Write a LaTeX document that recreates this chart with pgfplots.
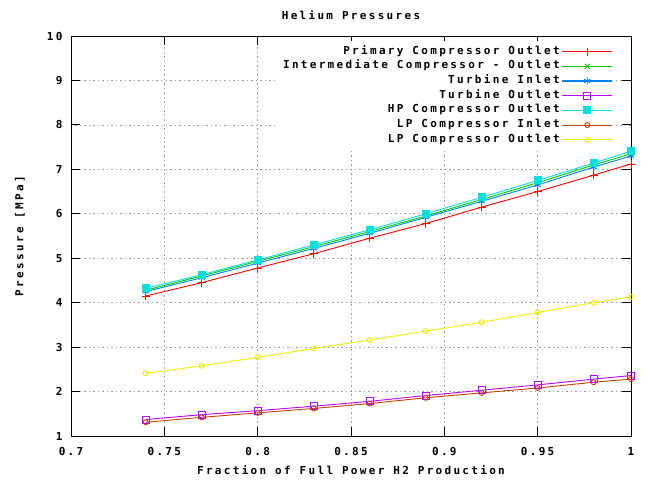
\documentclass[border=0pt]{standalone}
\usepackage{fontspec}
\setmainfont{DejaVu Sans Mono}[LetterSpace=21]
\usepackage{pgfplots}
\pgfplotsset{compat=1.18}
\definecolor{gpred}{RGB}{255,0,0}
\definecolor{gpgreen}{RGB}{0,200,0}
\definecolor{gpblue}{RGB}{0,128,255}
\definecolor{gpmag}{RGB}{192,0,255}
\definecolor{gpcyan}{RGB}{0,224,224}
\definecolor{gpbrown}{RGB}{192,64,0}
\definecolor{gpyellow}{RGB}{238,238,0}
\pgfplotsset{leg/.style={color=#1, legend image code/.code={\draw[draw=#1, line width=1.1pt] (0pt,0pt) -- (50pt,0pt); \draw[draw=#1, color=#1, line width=0.9pt] plot[only marks] coordinates {(25pt,0pt)};}}}
\begin{document}
\begin{tikzpicture}
\begin{axis}[
  scale only axis, width=560pt, height=400pt,
  at={(0,0)}, anchor=south west,
  xmin=0.7, xmax=1, ymin=1, ymax=10,
  xtick={0.7,0.75,0.8,0.85,0.9,0.95,1},
  ytick={1,2,3,4,5,6,7,8,9,10},
  xticklabels={0.7,0.75,0.8,0.85,0.9,0.95,1},
  /pgf/number format/assume math mode=true,
  tick align=inside, major tick length=9pt,
  tick style={black, line width=0.8pt},
  font=\fontsize{11}{13}\selectfont\bfseries,
  xticklabel style={yshift=-8pt},
  yticklabel style={xshift=-5pt},
  grid=major,
  major grid style={gray!80, dash pattern=on 1.5pt off 3pt, line width=0.6pt},
  axis line style={black, line width=0.8pt},
  title={Helium Pressures},
  title style={at={(axis description cs:0.5,1.0375)}, anchor=center},
  xlabel={Fraction of Full Power H2 Production},
  xlabel style={at={(axis description cs:0.5,-0.085)}, anchor=center},
  ylabel={Pressure [MPa]},
  ylabel style={at={(axis description cs:-0.091,0.5)}, anchor=center, rotate=0},
  legend plot pos=right,
  legend cell align=right,
  legend style={draw=none, fill=white, at={(rel axis cs:1,1)}, anchor=north east,
    xshift=-15pt, yshift=-5pt, inner sep=3pt, row sep=0pt,
    nodes={inner ysep=1.35pt, text height=8.5pt, text depth=3.5pt},
    /tikz/every even column/.append style={column sep=3pt},
    font=\fontsize{11}{13}\selectfont\bfseries},
  every axis plot/.append style={line width=0.9pt},
]
\addplot[leg=gpred, mark=+, mark size=4pt] coordinates {
(0.74,4.15) (0.77,4.45) (0.80,4.78) (0.83,5.10) (0.86,5.45) (0.89,5.78) (0.92,6.15) (0.95,6.50) (0.98,6.87) (1.00,7.12)};
\addlegendentry{Primary Compressor Outlet}
\addplot[leg=gpgreen, mark=x, mark size=3.5pt] coordinates {
(0.74,4.28) (0.77,4.60) (0.80,4.93) (0.83,5.26) (0.86,5.60) (0.89,5.95) (0.92,6.32) (0.95,6.70) (0.98,7.10) (1.00,7.35)};
\addlegendentry{Intermediate Compressor - Outlet}
\addplot[leg=gpblue, mark=asterisk, mark size=3.5pt] coordinates {
(0.74,4.25) (0.77,4.56) (0.80,4.89) (0.83,5.22) (0.86,5.56) (0.89,5.92) (0.92,6.28) (0.95,6.65) (0.98,7.05) (1.00,7.30)};
\addlegendentry{Turbine Inlet}
\addplot[leg=gpmag, mark=square, mark size=3.5pt] coordinates {
(0.74,1.37) (0.77,1.48) (0.80,1.57) (0.83,1.67) (0.86,1.78) (0.89,1.91) (0.92,2.03) (0.95,2.15) (0.98,2.28) (1.00,2.36)};
\addlegendentry{Turbine Outlet}
\addplot[leg=gpcyan, mark=square*, mark size=3.5pt] coordinates {
(0.74,4.32) (0.77,4.63) (0.80,4.96) (0.83,5.30) (0.86,5.64) (0.89,6.00) (0.92,6.37) (0.95,6.75) (0.98,7.14) (1.00,7.41)};
\addlegendentry{HP Compressor Outlet}
\addplot[leg=gpbrown, mark=o, mark size=2.5pt] coordinates {
(0.74,1.31) (0.77,1.42) (0.80,1.52) (0.83,1.62) (0.86,1.73) (0.89,1.86) (0.92,1.97) (0.95,2.08) (0.98,2.21) (1.00,2.28)};
\addlegendentry{LP Compressor Inlet}
\addplot[leg=gpyellow, mark=o, mark size=2.5pt] coordinates {
(0.74,2.41) (0.77,2.58) (0.80,2.77) (0.83,2.97) (0.86,3.16) (0.89,3.36) (0.92,3.56) (0.95,3.78) (0.98,4.00) (1.00,4.13)};
\addlegendentry{LP Compressor Outlet}
\end{axis}
\pgfresetboundingbox
\path[use as bounding box] (-71pt,-49pt) rectangle (580pt,436pt);
\end{tikzpicture}
\end{document}
